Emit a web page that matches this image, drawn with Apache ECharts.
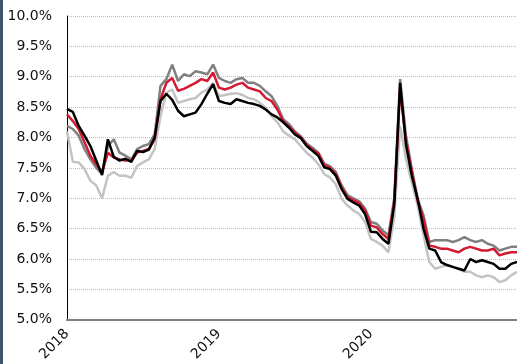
<!DOCTYPE html>
<html>
<head>
<meta charset="utf-8">
<script src="https://cdn.jsdelivr.net/npm/echarts@6/dist/echarts.min.js"></script>
<style>
  html, body { margin: 0; padding: 0; background: #fff; }
  #chart { width: 517px; height: 364px; }
</style>
</head>
<body>
<div id="chart"></div>
<script>
// one point every two weeks, starting 2018-01-01
var startDate = '2018-01-01';
var stepDays = 14;

var yearLabels = ['2018', '2019', '2020'];
var yearIndex = [0, 26, 52];

var blackSeries = [
  8.47, 8.42, 8.19, 8.03, 7.86, 7.62, 7.38, 7.97, 7.68, 7.62,
  7.65, 7.60, 7.78, 7.76, 7.80, 8.00, 8.60, 8.72, 8.62, 8.44,
  8.35, 8.38, 8.41, 8.55, 8.72, 8.88, 8.60, 8.57, 8.55, 8.63,
  8.60, 8.57, 8.55, 8.52, 8.46, 8.38, 8.33, 8.25, 8.16, 8.05,
  7.99, 7.86, 7.78, 7.70, 7.51, 7.48, 7.37, 7.15, 6.99, 6.93,
  6.88, 6.74, 6.45, 6.44, 6.33, 6.25, 6.90, 8.90, 7.88, 7.37,
  6.99, 6.50, 6.17, 6.14, 5.95, 5.90, 5.87, 5.84, 5.81, 6.00,
  5.95, 5.98, 5.95, 5.92, 5.84, 5.84, 5.92, 5.95
];

var redSeries = [
  8.38, 8.27, 8.14, 7.92, 7.70, 7.56, 7.43, 7.75, 7.67, 7.64,
  7.62, 7.62, 7.75, 7.78, 7.81, 7.97, 8.63, 8.90, 8.98, 8.77,
  8.80, 8.85, 8.90, 8.96, 8.93, 9.07, 8.82, 8.79, 8.82, 8.87,
  8.90, 8.82, 8.79, 8.76, 8.65, 8.60, 8.46, 8.27, 8.18, 8.08,
  8.00, 7.88, 7.80, 7.74, 7.55, 7.50, 7.40, 7.18, 7.02, 6.97,
  6.92, 6.80, 6.55, 6.52, 6.41, 6.33, 6.95, 8.80, 7.95, 7.45,
  6.95, 6.66, 6.22, 6.20, 6.17, 6.17, 6.14, 6.11, 6.17, 6.20,
  6.17, 6.14, 6.14, 6.17, 6.06, 6.09, 6.11, 6.11
];

var darkGreySeries = [
  8.19, 8.14, 8.03, 7.81, 7.64, 7.50, 7.40, 7.86, 7.97, 7.75,
  7.70, 7.64, 7.81, 7.86, 7.89, 8.05, 8.85, 8.96, 9.20, 8.93,
  9.04, 9.01, 9.09, 9.07, 9.04, 9.20, 8.98, 8.93, 8.90, 8.96,
  8.98, 8.90, 8.90, 8.85, 8.76, 8.68, 8.52, 8.30, 8.22, 8.10,
  8.02, 7.90, 7.83, 7.75, 7.57, 7.53, 7.43, 7.21, 7.05, 7.00,
  6.95, 6.83, 6.61, 6.58, 6.47, 6.39, 7.00, 8.96, 8.03, 7.48,
  6.99, 6.72, 6.28, 6.31, 6.31, 6.31, 6.28, 6.31, 6.36, 6.31,
  6.28, 6.31, 6.25, 6.22, 6.14, 6.17, 6.20, 6.20
];

var lightGreySeries = [
  8.10, 7.60, 7.59, 7.48, 7.29, 7.21, 7.00, 7.37, 7.43, 7.37,
  7.37, 7.34, 7.53, 7.59, 7.64, 7.81, 8.35, 8.74, 8.79, 8.57,
  8.60, 8.63, 8.65, 8.74, 8.79, 8.90, 8.68, 8.70, 8.72, 8.73,
  8.70, 8.65, 8.63, 8.57, 8.49, 8.35, 8.25, 8.10, 8.03, 7.97,
  7.86, 7.75, 7.67, 7.56, 7.40, 7.34, 7.23, 6.99, 6.88, 6.80,
  6.74, 6.61, 6.33, 6.28, 6.22, 6.11, 6.70, 8.19, 7.64, 7.26,
  6.88, 6.39, 5.95, 5.84, 5.87, 5.90, 5.87, 5.84, 5.79, 5.79,
  5.73, 5.70, 5.73, 5.70, 5.62, 5.65, 5.73, 5.79
];

var dates = [];
var d0 = new Date(startDate + 'T00:00:00Z');
for (var i = 0; i < blackSeries.length; i++) {
  var d = new Date(d0.getTime() + i * stepDays * 86400000);
  dates.push(d.toISOString().slice(0, 10));
}

function makeLine(name, color, values) {
  return {
    name: name,
    type: 'line',
    data: values,
    showSymbol: false,
    symbol: 'none',
    lineStyle: { color: color, width: 2.5 },
    itemStyle: { color: color }
  };
}

var chart = echarts.init(document.getElementById('chart'));

var option = {
  animation: false,
  backgroundColor: '#ffffff',
  textStyle: { fontFamily: 'DejaVu Sans' },
  graphic: [{
    type: 'rect',
    left: 0,
    top: 0,
    shape: { width: 3, height: 364 },
    style: { fill: '#3d556d' }
  }],
  grid: { left: 67, right: 0, top: 16, bottom: 43, containLabel: false },
  xAxis: {
    type: 'category',
    data: dates,
    boundaryGap: false,
    axisLine: { show: true, lineStyle: { color: '#808080', width: 2 } },
    axisTick: { show: false },
    splitLine: { show: false },
    axisLabel: {
      rotate: 45,
      margin: 12,
      fontSize: 14,
      color: '#111',
      interval: function (index) {
        return yearIndex.indexOf(index) >= 0;
      },
      formatter: function (value, index) {
        var k = yearIndex.indexOf(index);
        return k >= 0 ? yearLabels[k] : '';
      }
    }
  },
  yAxis: {
    type: 'value',
    min: 5,
    max: 10,
    interval: 0.5,
    axisLine: { show: true, lineStyle: { color: '#000', width: 1 } },
    axisTick: { show: false },
    axisLabel: {
      margin: 15,
      fontSize: 14,
      color: '#111',
      formatter: function (v) { return v.toFixed(1) + '%'; }
    },
    splitLine: { show: true, lineStyle: { color: '#bdbdbd', type: 'dotted', width: 1 } }
  },
  series: [
    makeLine('light grey', '#c3c3c3', lightGreySeries),
    makeLine('dark grey', '#808080', darkGreySeries),
    makeLine('red', '#d41a32', redSeries),
    makeLine('black', '#000000', blackSeries)
  ]
};

chart.setOption(option);
</script>
</body>
</html>
